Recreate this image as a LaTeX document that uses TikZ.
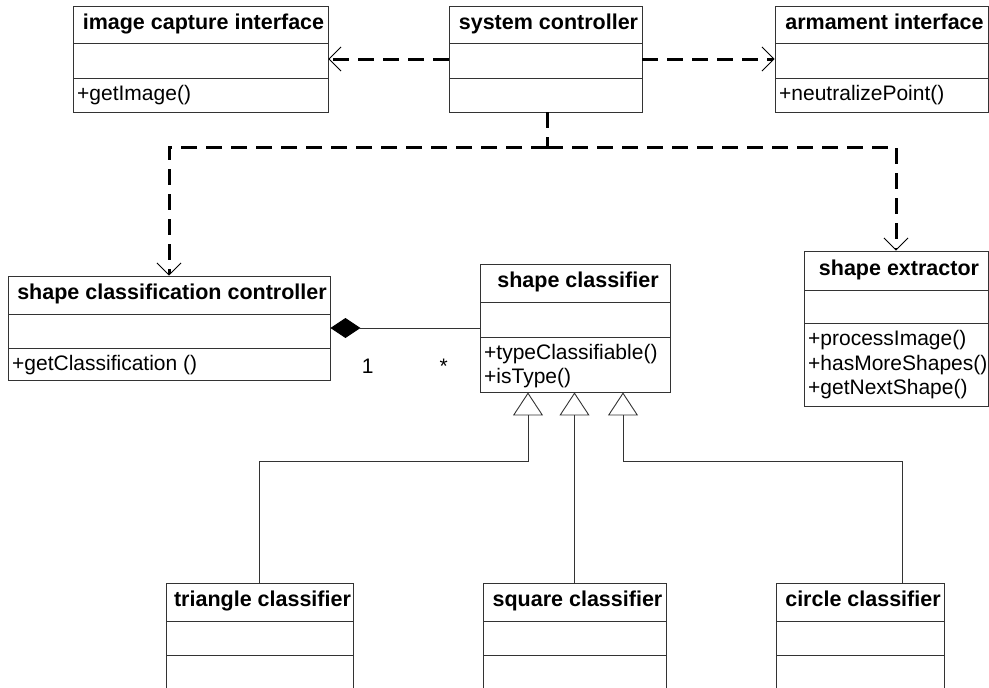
\documentclass[tikz,border=0pt]{standalone}
\usepackage{fontspec}
\setmainfont{Liberation Sans}
\usetikzlibrary{arrows.meta,fit}

\tikzset{
  umlbox/.style={draw=black!80, line width=0.9pt, inner sep=0pt},
  umldiv/.style={draw=black!80, line width=0.9pt},
  umltitle/.style={font=\bfseries\fontsize{21.5}{25}\selectfont, inner sep=0pt,
    text height=0.72em, text depth=0.21em},
  umlop/.style={font=\fontsize{21}{25}\selectfont, inner sep=0pt, anchor=base west},
  dependline/.style={line width=3pt, dash pattern=on 16pt off 9pt},
  depend/.style={dependline,
    -{Straight Barb[length=12pt, width=24pt, line width=0.9pt]}},
  inherit/.style={draw=black!80, line width=0.9pt,
    -{Triangle[open, length=23pt, width=30pt, line width=0.9pt]}},
  compo/.style={draw=black!80, line width=0.9pt,
    {Diamond[length=30pt, width=20pt, color=black, fill=black]}-},
  mult/.style={font=\fontsize{21}{25}\selectfont, inner sep=0pt, anchor=base, yshift=-45pt}
}

%#1 name, #2 left, #3 top, #4 right, #5 bottom, #6 #7 dividers, #8 title
\newcommand{\umlclass}[8]{
  \node [umlbox, fit={(#2,#3) (#4,#5)}] (#1) {};
  \draw [umldiv] (#2,#6) -- (#4,#6);
  \draw [umldiv] (#2,#7) -- (#4,#7);
  \node [umltitle] (#1-title) at ({(#2+#4)/2+3},{(#3+#6)/2+2}) {#8};
}

\begin{document}
\begin{tikzpicture}[x=1pt, y=-1pt]
        \useasboundingbox (0,0) rectangle (989,688);
        \clip (0,0) rectangle (989,688);

        %Top row
        \umlclass{imgcap}{73}{6}{328}{112}{43}{78}{image capture interface}
        \node [umlop] (imgcap-op1) at (77,100.5) {+getImage()};
        \umlclass{sysctrl}{449}{6}{642}{112}{43}{78}{system controller}
        \umlclass{arm}{775}{6}{988}{112}{43}{78}{armament interface}
        \node [umlop] (arm-op1) at (779,100.5) {+neutralizePoint()};

        %Middle row
        \umlclass{scc}{8}{276}{330}{380}{314}{348}{shape classification controller}
        \node [umlop] (scc-op1) at (12,370.5) {+getClassification ()};
        \umlclass{shcl}{480}{264}{670}{392}{302}{337}{shape classifier}
        \foreach \op [count=\i] in {+typeClassifiable(), +isType()}
          \node [umlop] (shcl-op\i) at (484,{359+(\i-1)*24.5}) {\op};
        \umlclass{shex}{804}{251}{988}{406}{290}{323}{shape extractor}
        \foreach \op [count=\i] in {+processImage(), +hasMoreShapes(), +getNextShape()}
          \node [umlop] (shex-op\i) at (808,{345.5+(\i-1)*24.5}) {\op};

        %Bottom row
        \umlclass{tri}{166}{583}{353}{720}{621}{655}{triangle classifier}
        \umlclass{sq}{483}{583}{666}{720}{621}{655}{square classifier}
        \umlclass{circ}{776}{583}{944}{720}{621}{655}{circle classifier}

        %Dependencies
        \draw [depend] (sysctrl.west) -- (imgcap.east);
        \draw [depend] (sysctrl.east) -- (arm.west);
        \coordinate (split) at (547,147);
        \draw [dependline] (sysctrl.south -| split) -- (split);
        \draw [depend] (split) -| (scc.north);
        \draw [depend] (split) -| (shex.north);

        %Composition
        \draw [compo] (scc.east) -- node [mult, pos=0.25] (one) {1}
          node [mult, pos=0.76] (many) {*} (shcl.west);

        %Inheritance
        \coordinate (bendL) at (528,461);
        \coordinate (bendR) at (623,461);
        \draw [inherit] (tri.north) |- (bendL) -- (shcl.south -| bendL);
        \draw [inherit] (sq.north) -- (sq.north |- shcl.south);
        \draw [inherit] ([xshift=42pt]circ.north) |- (bendR) -- (shcl.south -| bendR);

\end{tikzpicture}
\end{document}
